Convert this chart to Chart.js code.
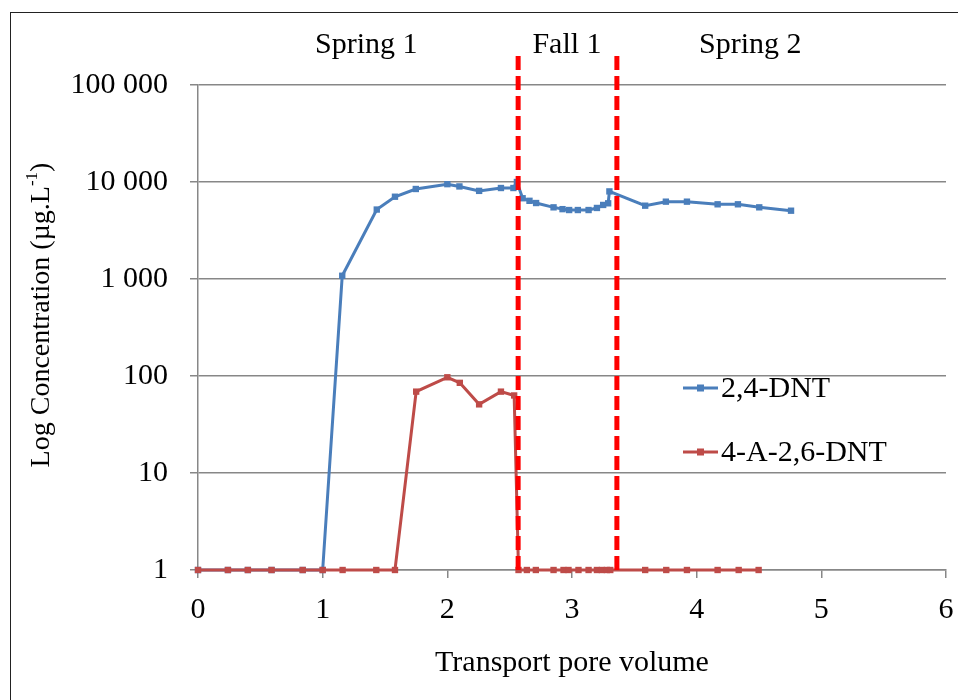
<!DOCTYPE html>
<html>
<head>
<meta charset="utf-8">
<script src="https://cdn.jsdelivr.net/npm/chart.js@4.4.1/dist/chart.umd.min.js"></script>
<style>
  html, body { margin: 0; padding: 0; background: #ffffff; }
  #wrap { position: relative; width: 958px; height: 700px; }
</style>
</head>
<body>
<div id="wrap"><canvas id="c" width="958" height="700"></canvas></div>
<script>
// Transport pore volume (x) and concentration (µg/L) for each compound
const dntX = [0, 0.24, 0.40, 0.59, 0.84, 1.00, 1.157, 1.434, 1.58, 1.747, 2.00, 2.097, 2.255, 2.43, 2.53, 2.558,
  2.604, 2.659, 2.712, 2.852, 2.924, 2.977, 3.047, 3.133, 3.20, 3.25, 3.29, 3.30, 3.587, 3.753, 3.922, 4.168, 4.331, 4.502, 4.757];
const dntY = [1, 1, 1, 1, 1, 1, 1080, 5200, 7050, 8470, 9500, 9000, 8100, 8670, 8670, 10000,
  6800, 6400, 6070, 5480, 5250, 5140, 5140, 5140, 5400, 5800, 6030, 8000, 5700, 6270, 6270, 5890, 5890, 5480, 5060];

const aminoX = [0, 0.24, 0.40, 0.59, 0.84, 1.00, 1.16, 1.43, 1.58, 1.75, 2.00, 2.10, 2.255, 2.43, 2.536,
  2.571, 2.638, 2.71, 2.852, 2.932, 2.972, 3.052, 3.133, 3.20, 3.24, 3.28, 3.307, 3.587, 3.756, 3.922, 4.168, 4.337, 4.497];
const aminoY = [1, 1, 1, 1, 1, 1, 1, 1, 1, 69, 97, 85, 51, 69, 63,
  1, 1, 1, 1, 1, 1, 1, 1, 1, 1, 1, 1, 1, 1, 1, 1, 1, 1];

// Season boundaries and labels
const seasonBounds = [2.568, 3.36];
const seasonNames = ['Spring 1', 'Fall 1', 'Spring 2'];
const seasonLabelX = [1.35, 2.96, 4.43];

const seriesNames = ['2,4-DNT', '4-A-2,6-DNT'];
const yTicks = [1, 10, 100, 1000, 10000, 100000];
const xTicks = [0, 1, 2, 3, 4, 5, 6];

const BLUE = '#4A7EBB';
const RED = '#BE4B48';
const GRID = '#878787';
const FONT = '"Liberation Serif", "Times New Roman", serif';
const FS = 30;
const FS_YTITLE = 28;

const toPts = (xs, ys) => xs.map((x, i) => ({ x: x, y: ys[i] }));
const fmt = v => String(v).replace(/\B(?=(\d{3})+(?!\d))/g, ' ');

const boundarySets = seasonBounds.map(b => ({
  data: [{ x: b, y: 1 }, { x: b, y: 210000 }],
  borderColor: '#FF0000',
  borderWidth: 5,
  borderDash: [14, 6],
  pointRadius: 0,
  clip: false,
  order: -1
}));

const decor = {
  id: 'decor',
  beforeDraw(chart) {
    const ctx = chart.ctx;
    ctx.save();
    ctx.fillStyle = '#ffffff';
    ctx.fillRect(0, 0, chart.width, chart.height);
    ctx.strokeStyle = '#222222';
    ctx.lineWidth = 1;
    ctx.strokeRect(10.5, 12.5, 1000, 1000);
    ctx.restore();
  },
  afterDraw(chart) {
    const ctx = chart.ctx;
    const xs = chart.scales.x;
    ctx.save();
    ctx.fillStyle = '#000000';
    ctx.font = FS + 'px ' + FONT;
    ctx.textBaseline = 'middle';
    ctx.textAlign = 'center';
    // season labels
    seasonNames.forEach((n, i) => ctx.fillText(n, xs.getPixelForValue(seasonLabelX[i]), 45));
    // x-axis title
    ctx.fillText('Transport pore volume', 572, 663);
    // y-axis title with superscript
    ctx.save();
    ctx.translate(42, 315);
    ctx.rotate(-Math.PI / 2);
    const a = 'Log Concentration (µg.L';
    const sup = '-1';
    const c = ')';
    const mainFont = FS_YTITLE + 'px ' + FONT;
    const supFont = Math.round(FS_YTITLE * 0.62) + 'px ' + FONT;
    ctx.font = mainFont;
    const wa = ctx.measureText(a).width;
    const wc = ctx.measureText(c).width;
    ctx.font = supFont;
    const ws = ctx.measureText(sup).width;
    const x0 = -(wa + ws + wc) / 2;
    ctx.textAlign = 'left';
    ctx.font = mainFont;
    ctx.fillText(a, x0, 0);
    ctx.font = supFont;
    ctx.fillText(sup, x0 + wa, -9);
    ctx.font = mainFont;
    ctx.fillText(c, x0 + wa + ws, 0);
    ctx.restore();
    // legend
    const items = [[BLUE, 388], [RED, 452]];
    items.forEach((it, i) => {
      const [col, y] = it;
      ctx.strokeStyle = col;
      ctx.lineWidth = 3;
      ctx.beginPath();
      ctx.moveTo(683, y);
      ctx.lineTo(718, y);
      ctx.stroke();
      ctx.fillStyle = col;
      ctx.fillRect(697, y - 3.5, 7, 7);
      ctx.fillStyle = '#000000';
      ctx.textAlign = 'left';
      ctx.font = FS + 'px ' + FONT;
      ctx.fillText(seriesNames[i], 721, y + 1);
    });
    ctx.restore();
  }
};

new Chart(document.getElementById('c'), {
  type: 'line',
  data: {
    datasets: [
      {
        label: seriesNames[0],
        data: toPts(dntX, dntY),
        borderColor: BLUE,
        backgroundColor: BLUE,
        borderWidth: 3,
        pointStyle: 'rect',
        pointRadius: 4.5,
        pointBorderWidth: 0,
        tension: 0,
        clip: 8,
        order: 2
      },
      {
        label: seriesNames[1],
        data: toPts(aminoX, aminoY),
        borderColor: RED,
        backgroundColor: RED,
        borderWidth: 3,
        pointStyle: 'rect',
        pointRadius: 4.5,
        pointBorderWidth: 0,
        tension: 0,
        clip: 8,
        order: 1
      },
      ...boundarySets
    ]
  },
  options: {
    responsive: false,
    animation: false,
    events: [],
    layout: { padding: { left: 0, top: 85, right: 12, bottom: 0 } },
    plugins: { legend: { display: false }, tooltip: { enabled: false } },
    scales: {
      x: {
        type: 'linear',
        min: 0,
        max: 6,
        afterFit(s) { s.height = 130; s.paddingRight = 0; s.paddingLeft = 0; },
        afterBuildTicks(s) { s.ticks = xTicks.map(v => ({ value: v })); },
        grid: { display: true, drawOnChartArea: false, drawTicks: true, tickLength: 8, color: GRID, lineWidth: 1.5 },
        border: { color: GRID, width: 1.5 },
        ticks: { color: '#000000', font: { family: FONT, size: FS }, padding: 14, maxRotation: 0 }
      },
      y: {
        type: 'logarithmic',
        min: 1,
        max: 100000,
        afterFit(s) { s.width = 198; },
        afterBuildTicks(s) { s.ticks = yTicks.map(v => ({ value: v })); },
        grid: { color: GRID, lineWidth: 1.5, tickLength: 8 },
        border: { color: GRID, width: 1.5 },
        ticks: { color: '#000000', font: { family: FONT, size: FS }, padding: 22, callback: v => fmt(v) }
      }
    }
  },
  plugins: [decor]
});
</script>
</body>
</html>
